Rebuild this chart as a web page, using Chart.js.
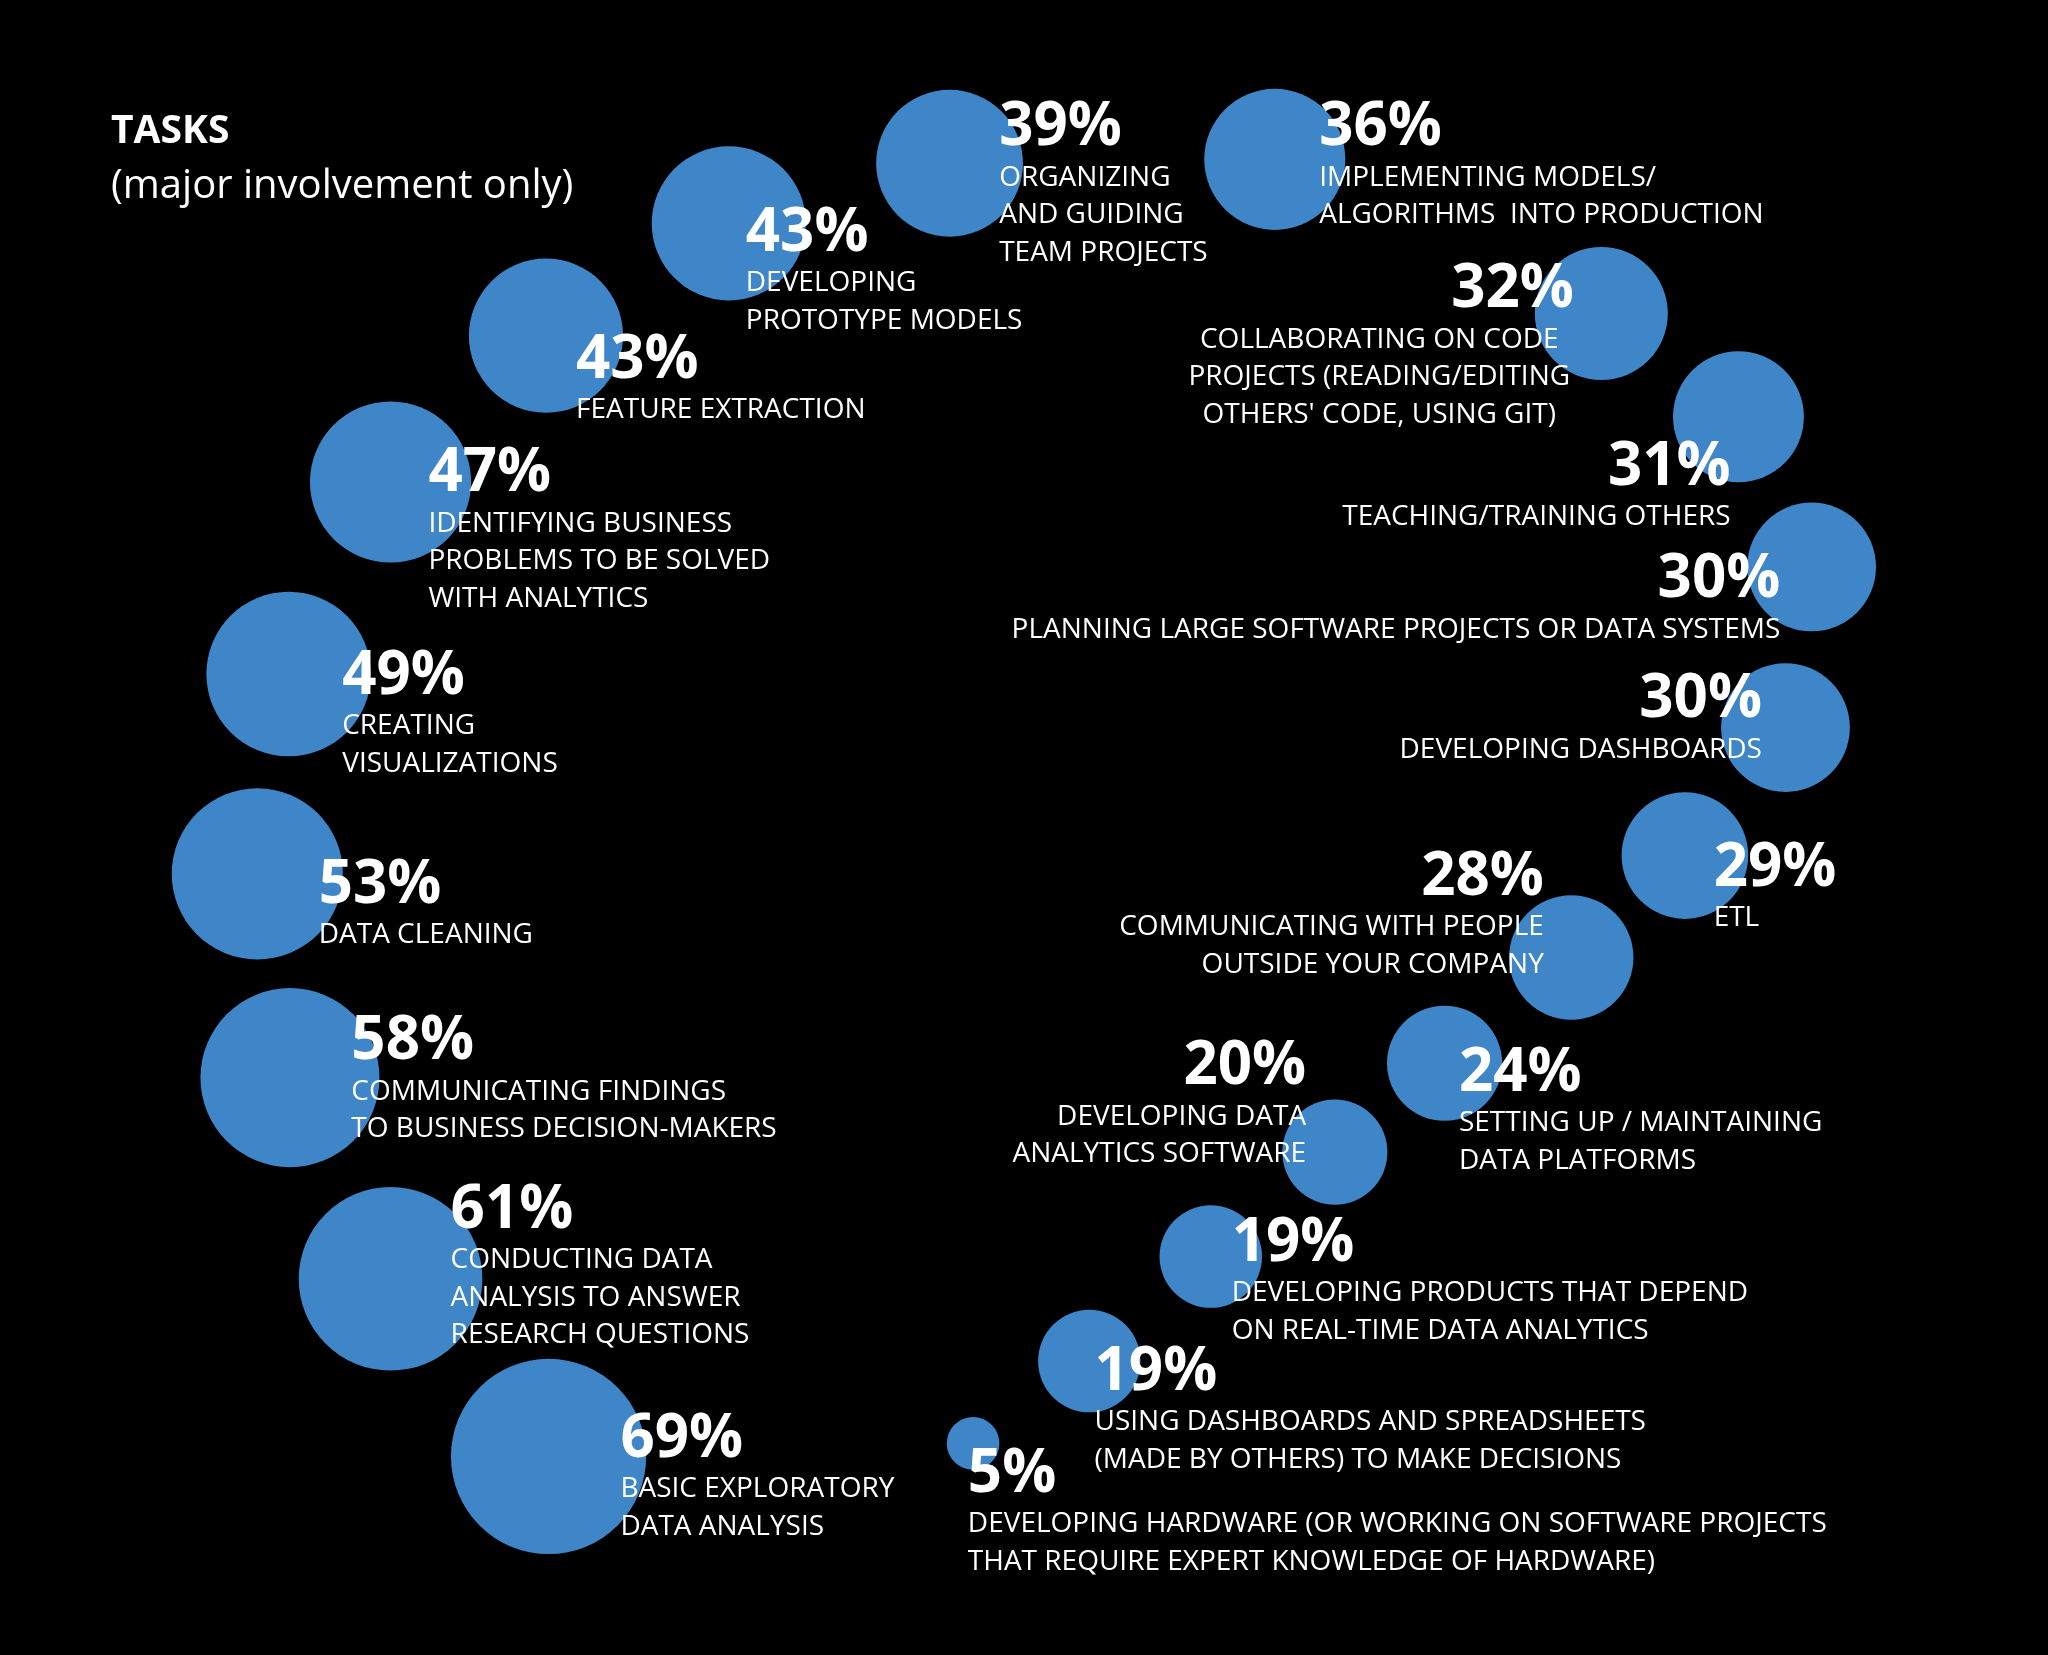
<!DOCTYPE html>
<html>
<head>
<meta charset="utf-8">
<script src="https://cdn.jsdelivr.net/npm/chart.js@4/dist/chart.umd.min.js"></script>
<style>
  html, body { margin: 0; padding: 0; background: #000; }
  canvas { display: block; }
</style>
</head>
<body>
<canvas id="c" width="2048" height="1655"></canvas>
<script>
(function() {
	'use strict';

	// Share of respondents with major involvement in each task (%)
	const values = [69, 61, 58, 53, 49, 47, 43, 43, 39, 36, 32, 31, 30, 30, 29, 28, 24, 20, 19, 19, 5];

	const tasks = [
		['BASIC EXPLORATORY', 'DATA ANALYSIS'],
		['CONDUCTING DATA', 'ANALYSIS TO ANSWER', 'RESEARCH QUESTIONS'],
		['COMMUNICATING FINDINGS', 'TO BUSINESS DECISION-MAKERS'],
		['DATA CLEANING'],
		['CREATING', 'VISUALIZATIONS'],
		['IDENTIFYING BUSINESS', 'PROBLEMS TO BE SOLVED', 'WITH ANALYTICS'],
		['FEATURE EXTRACTION'],
		['DEVELOPING', 'PROTOTYPE MODELS'],
		['ORGANIZING', 'AND GUIDING', 'TEAM PROJECTS'],
		['IMPLEMENTING MODELS/', 'ALGORITHMS  INTO PRODUCTION'],
		['COLLABORATING ON CODE', 'PROJECTS (READING/EDITING', 'OTHERS\' CODE, USING GIT)'],
		['TEACHING/TRAINING OTHERS'],
		['PLANNING LARGE SOFTWARE PROJECTS OR DATA SYSTEMS'],
		['DEVELOPING DASHBOARDS'],
		['ETL'],
		['COMMUNICATING WITH PEOPLE', 'OUTSIDE YOUR COMPANY'],
		['SETTING UP / MAINTAINING', 'DATA PLATFORMS'],
		['DEVELOPING DATA', 'ANALYTICS SOFTWARE'],
		['DEVELOPING PRODUCTS THAT DEPEND', 'ON REAL-TIME DATA ANALYTICS'],
		['USING DASHBOARDS AND SPREADSHEETS', '(MADE BY OTHERS) TO MAKE DECISIONS'],
		['DEVELOPING HARDWARE (OR WORKING ON SOFTWARE PROJECTS', 'THAT REQUIRE EXPERT KNOWLEDGE OF HARDWARE)']
	];

	// Layout of the ring (units of a 1568 x 1267 board)
	const bubbleX = [420, 299, 222, 197, 221, 299, 418, 558, 727, 976, 1226, 1331, 1387, 1367, 1290, 1203, 1106, 1022, 927, 834, 745];
	const bubbleY = [1115, 979, 825, 669, 516, 369, 257, 171, 125, 122, 240, 319, 434, 557, 655, 733, 814, 882, 962, 1042, 1105];

	// Label anchors: x, y of the percentage, alignment
	const labelX = [475, 345, 269, 244, 262, 328, 441, 571, 765, 1010, 1205, 1325, 1363, 1349, 1312, 1182, 1117, 1000, 943, 838, 741];
	const labelY = [1102, 927, 798, 678, 518, 363, 276, 179, 98, 98, 222, 358, 444, 536, 665, 672, 822, 817, 952, 1051, 1129];
	const labelAlign = ['left', 'left', 'left', 'left', 'left', 'left', 'left', 'left', 'left', 'left',
		'center', 'right', 'right', 'right', 'left', 'right', 'left', 'right', 'left', 'left', 'left'];
	const pctOnlyX = { 10: 1205 }; // percent right edge when lines are centred
	const centerLinesX = { 10: 1056 };

	const S = 2048 / 1568;
	const FONT = '"Open Sans", "Noto Sans", sans-serif';

	const labelPlugin = {
		id: 'taskLabels',
		afterDatasetsDraw(chart) {
			const ctx = chart.ctx;
			const xs = chart.scales.x, ys = chart.scales.y;
			ctx.save();
			ctx.fillStyle = '#ffffff';
			ctx.textBaseline = 'middle';

			ctx.textAlign = 'left';
			ctx.font = 'bold ' + Math.round(30 * S) + 'px ' + FONT;
			ctx.fillText('TASKS', xs.getPixelForValue(85), ys.getPixelForValue(101));
			ctx.font = Math.round(31 * S) + 'px ' + FONT;
			ctx.fillText('(major involvement only)', xs.getPixelForValue(85), ys.getPixelForValue(143));

			values.forEach((v, i) => {
				const align = labelAlign[i];
				const y0 = ys.getPixelForValue(labelY[i]);
				ctx.font = 'bold ' + Math.round(46 * S) + 'px ' + FONT;
				if (align === 'center') {
					ctx.textAlign = 'right';
					ctx.fillText(v + '%', xs.getPixelForValue(pctOnlyX[i]), y0);
				} else {
					ctx.textAlign = align;
					ctx.fillText(v + '%', xs.getPixelForValue(labelX[i]), y0);
				}
				ctx.font = Math.round(21.5 * S) + 'px ' + FONT;
				ctx.textAlign = align;
				const lx = align === 'center' ? xs.getPixelForValue(centerLinesX[i]) : xs.getPixelForValue(labelX[i]);
				tasks[i].forEach((line, j) => {
					ctx.fillText(line, lx, ys.getPixelForValue(labelY[i] + 38 + j * 28.7));
				});
			});
			ctx.restore();
		}
	};

	const points = values.map((v, i) => ({ x: bubbleX[i], y: bubbleY[i], v: v }));

	new Chart(document.getElementById('c').getContext('2d'), {
		type: 'bubble',
		data: {
			datasets: [{
				data: points,
				backgroundColor: '#3f86c8',
				borderWidth: 0,
				clip: false,
				radius: c => 9 * S * Math.sqrt(c.raw.v)
			}]
		},
		options: {
			responsive: false,
			animation: false,
			devicePixelRatio: 1,
			layout: { padding: 0, autoPadding: false },
			plugins: { legend: { display: false }, tooltip: { enabled: false } },
			scales: {
				x: { type: 'linear', min: 0, max: 1568, display: false },
				y: { type: 'linear', min: 0, max: 1267, reverse: true, display: false }
			}
		},
		plugins: [labelPlugin]
	});
})();
</script>
</body>
</html>
